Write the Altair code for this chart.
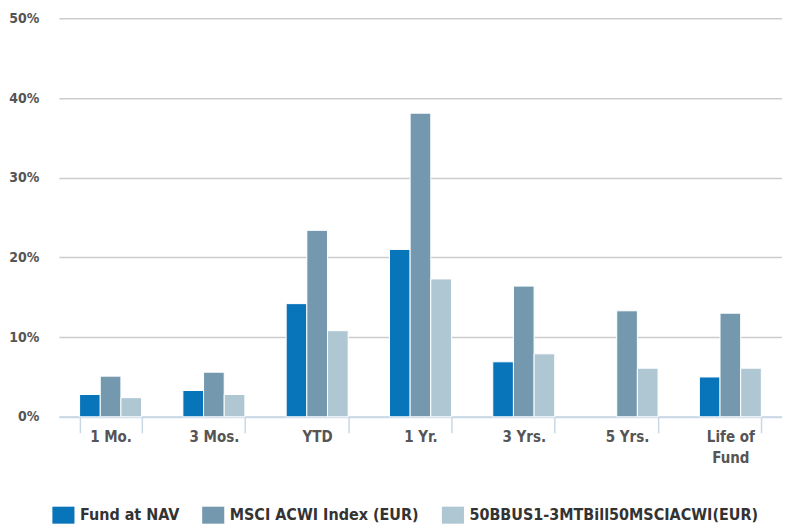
import altair as alt
import pandas as pd

categories = ["1 Mo.", "3 Mos.", "YTD", "1 Yr.", "3 Yrs.", "5 Yrs.", "Life of Fund"]
series_names = ["Fund at NAV", "MSCI ACWI Index (EUR)", "50BBUS1-3MTBill50MSCIACWI(EUR)"]
fund = [2.8, 3.3, 14.2, 21.0, 6.9, None, 5.0]
msci = [5.1, 5.6, 23.4, 38.1, 16.4, 13.3, 13.0]
blend = [2.4, 2.8, 10.8, 17.3, 7.9, 6.1, 6.1]
colors = ["#0874BA", "#7499AF", "#AFC6D3"]
y_ticks = [0, 10, 20, 30, 40, 50]

rows = []
for s, vals in zip(series_names, [fund, msci, blend]):
    for c, v in zip(categories, vals):
        rows.append({"period": c, "series": s, "value": v})
df = pd.DataFrame(rows)

font = "DejaVu Sans Condensed"

chart = alt.Chart(df).mark_bar(stroke="white", strokeWidth=1).encode(
    x=alt.X("period:N", sort=categories,
            scale=alt.Scale(paddingInner=0.4, paddingOuter=0.2),
            axis=alt.Axis(title=None, labelAngle=0, tickBand="extent",
                          domainColor="#C9D8E6", domainWidth=2,
                          tickColor="#C9D8E6", tickWidth=1.5, tickSize=16,
                          labelPadding=-3, labelFontSize=15, labelFont=font,
                          labelFontWeight="bold", labelColor="#555555",
                          labelExpr="datum.label == 'Life of Fund' ? ['Life of', 'Fund'] : datum.label",
                          labelLineHeight=21)),
    xOffset=alt.XOffset("series:N", sort=series_names,
                        scale=alt.Scale(paddingInner=0, paddingOuter=0)),
    y=alt.Y("value:Q", scale=alt.Scale(domain=[0, 50], nice=False),
            axis=alt.Axis(title=None, values=y_ticks, labelExpr="datum.value + '%'",
                          domain=False, ticks=False, labelPadding=20,
                          minExtent=50, maxExtent=50,
                          labelFontSize=14, labelFont=font, labelFontWeight="bold",
                          labelColor="#555555", gridColor="#CCCCCC", gridWidth=1.5)),
    color=alt.Color("series:N", sort=series_names,
                    scale=alt.Scale(domain=series_names, range=colors),
                    legend=alt.Legend(title=None, orient="none", direction="horizontal",
                                      legendX=-4, legendY=489,
                                      symbolType="M-1.3,-1H1.3V1H-1.3Z", symbolSize=289,
                                      symbolStrokeWidth=0, symbolOpacity=1,
                                      labelFontSize=16, labelFont=font, labelFontWeight="bold",
                                      labelColor="#333333", labelLimit=400,
                                      columnPadding=22, labelOffset=8)),
).properties(
    width=724, height=399,
    padding={"left": 0, "top": 3, "right": 0, "bottom": 0},
).configure_view(stroke=None)

chart.save("out.html", embed_options={"renderer": "svg", "actions": False})
